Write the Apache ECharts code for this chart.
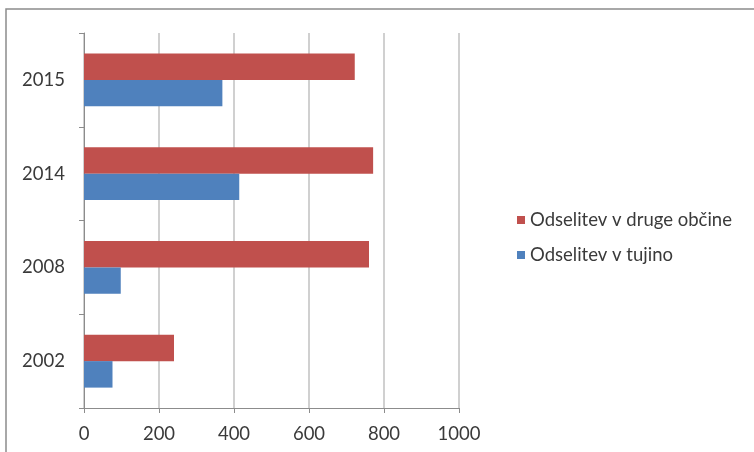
<!DOCTYPE html>
<html>
<head>
<meta charset="utf-8">
<script src="https://cdn.jsdelivr.net/npm/echarts@6/dist/echarts.min.js"></script>
<style>
  html, body { margin: 0; padding: 0; background: #fff; }
  #chart { width: 754px; height: 452px; }
</style>
</head>
<body>
<div id="chart"></div>
<script>
// Years shown on the category axis (bottom to top)
const years = ['2002', '2008', '2014', '2015'];
// Emigration abroad
const abroad = [76, 98, 414, 369];
// Emigration to other municipalities
const otherMunicipalities = [240, 760, 771, 722];
// Value axis ticks
const xTicks = [0, 200, 400, 600, 800, 1000];

const nameOther = 'Odselitev v druge občine';
const nameAbroad = 'Odselitev v tujino';

const font = 'Lato, Open Sans, sans-serif';
const textColor = '#3a3a3a';
const chart = echarts.init(document.getElementById('chart'));
chart.setOption({
  animation: false,
  backgroundColor: '#ffffff',
  graphic: [{
    type: 'rect',
    shape: { x: 6, y: 9, width: 800, height: 500 },
    style: { fill: 'none', stroke: '#8c8c8c', lineWidth: 1.5 },
    silent: true
  }],
  grid: { left: 84, right: 295, top: 33, bottom: 44 },
  legend: {
    orient: 'vertical',
    left: 512,
    top: 205,
    itemWidth: 8,
    itemHeight: 8,
    itemGap: 15,
    icon: 'rect',
    data: [nameOther, nameAbroad],
    textStyle: { fontFamily: font, fontSize: 18.5, lineHeight: 20, color: textColor }
  },
  xAxis: {
    type: 'value',
    min: xTicks[0],
    max: xTicks[xTicks.length - 1],
    interval: xTicks[1] - xTicks[0],
    axisLine: { show: true, lineStyle: { color: '#8c8c8c', width: 1 } },
    axisTick: { show: true, length: 5, lineStyle: { color: '#8c8c8c' } },
    splitLine: { show: true, lineStyle: { color: '#c0c0c0', width: 1.5 } },
    axisLabel: {
      margin: 17,
      fontFamily: font,
      fontSize: 18.5,
      color: textColor,
      formatter: v => String(v)
    }
  },
  yAxis: {
    type: 'category',
    data: years,
    axisLine: { show: true, lineStyle: { color: '#8c8c8c', width: 1 } },
    axisTick: { show: true, length: 5, lineStyle: { color: '#8c8c8c' } },
    axisLabel: { margin: 19, fontFamily: font, fontSize: 18.5, color: textColor }
  },
  series: [
    {
      name: nameOther,
      type: 'bar',
      data: otherMunicipalities,
      barCategoryGap: '43.5%',
      barGap: '0%',
      itemStyle: { color: '#c0504d' }
    },
    {
      name: nameAbroad,
      type: 'bar',
      data: abroad,
      barCategoryGap: '43.5%',
      barGap: '0%',
      itemStyle: { color: '#4f81bd' }
    }
  ]
});
</script>
</body>
</html>
